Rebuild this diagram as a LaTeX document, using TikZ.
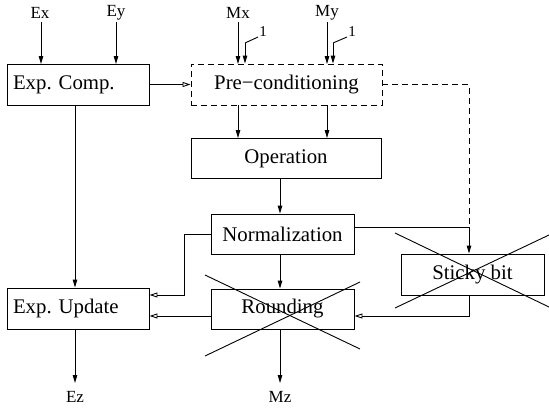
\documentclass[tikz,border=0pt]{standalone}
\usepackage{fontspec}
\setmainfont{Liberation Serif}
\usetikzlibrary{arrows.meta,calc}
\begin{document}
\begin{tikzpicture}[x=1pt,y=-1pt,
  every path/.style={line width=0.9pt},
  block/.style={draw,line width=0.9pt,minimum height=41pt,inner sep=0pt,
    font=\fontsize{20.8}{24}\selectfont\frenchspacing},
  leftblock/.style={block,inner xsep=6pt,text width=130pt,align=left},
  dashbox/.style={dash pattern=on 6pt off 4pt},
  io/.style={inner sep=0pt,font=\fontsize{17}{20}\selectfont},
  small/.style={inner sep=0pt,font=\fontsize{15}{18}\selectfont},
  fwd/.style={-{Triangle[length=8pt,width=4.5pt]}},
  back/.style={-{Triangle[open,length=8pt,width=5pt]}},
  crossline/.style={line width=0.9pt}]
\useasboundingbox (0,0) rectangle (549,413);

% blocks
\node[leftblock] (expcomp) at (78,84.5) {Exp.\ Comp.};
\node[block,minimum width=191pt,dashbox] (precond) at (286.5,84.5) {Pre−conditioning};
\node[block,minimum width=190pt,minimum height=40pt] (oper) at (286,158.5) {Operation};
\node[block,minimum width=143pt,minimum height=40pt] (norm) at (282.5,234) {Normalization};
\node[block,minimum width=143pt,minimum height=40pt] (round) at (282.5,309) {Rounding};
\node[leftblock] (expupd) at (78,308.5) {Exp.\ Update};
\node[block,minimum width=143pt] (sticky) at (472.5,274.5) {Sticky bit};

% inputs and outputs
\node[io] (ex) at (40,13) {Ex};
\node[io] (ey) at (116,13) {Ey};
\node[io] (mx) at (238,13) {Mx};
\node[io] (my) at (327,13) {My};
\node[io] (ez) at (75,397) {Ez};
\node[io] (mz) at (280,397) {Mz};
\node[small] (onex) at (263,32) {1};
\node[small] (oney) at (352,32) {1};

\coordinate (cx) at (245,43);
\coordinate (cy) at (333,43);
\coordinate (lx) at (258,37);
\coordinate (ly) at (347,37);

% exponent path
\draw[fwd] (41,22) -- (41,64);
\draw[fwd] (116,22) -- (116,64);
\draw[fwd] (expcomp.south -| 75,0) -- (expupd.north -| 75,0);
\draw[fwd] (expupd.south -| 75,0) -- (75,383);
\draw[back] (expcomp.east) -- (precond.west);

% mantissa inputs with the hidden bit
\draw[fwd] (238,22) -- (238,64);
\draw[fwd] (327,22) -- (327,64);
\draw[fwd] (cx) -- (cx |- precond.north);
\draw[fwd] (cy) -- (cy |- precond.north);
\draw (cx) -- (lx);
\draw (cy) -- (ly);

% mantissa datapath
\draw[fwd] (precond.south -| 238,0) -- (oper.north -| 238,0);
\draw[fwd] (precond.south -| 327,0) -- (oper.north -| 327,0);
\draw[fwd] (oper.south -| 280,0) -- (norm.north -| 280,0);
\draw[fwd] (norm.south -| 280,0) -- (round.north -| 280,0);
\draw[fwd] (round.south -| 280,0) -- (280,383);

% sticky bit path
\coordinate (sj) at (469,227);
\draw[dashbox] (precond.east) -- (469,84.5) -- (sj);
\draw[fwd] (norm.east |- sj) -- (sj) -- (sticky.north -| sj);
\draw[back] (sticky.south -| sj) |- (round.east |- 0,316);

% feedback to exponent update
\draw[back] (norm.west) -- (184,234) |- (expupd.east |- 0,295);
\draw[back] (round.west |- 0,316) -- (expupd.east |- 0,316);

% crossed-out blocks
\draw[crossline] (205,275) -- (360,349);
\draw[crossline] (205,356) -- (360,282);
\draw[crossline] (395,233) -- (549,307);
\draw[crossline] (395,308) -- (549,235);
\end{tikzpicture}
\end{document}
